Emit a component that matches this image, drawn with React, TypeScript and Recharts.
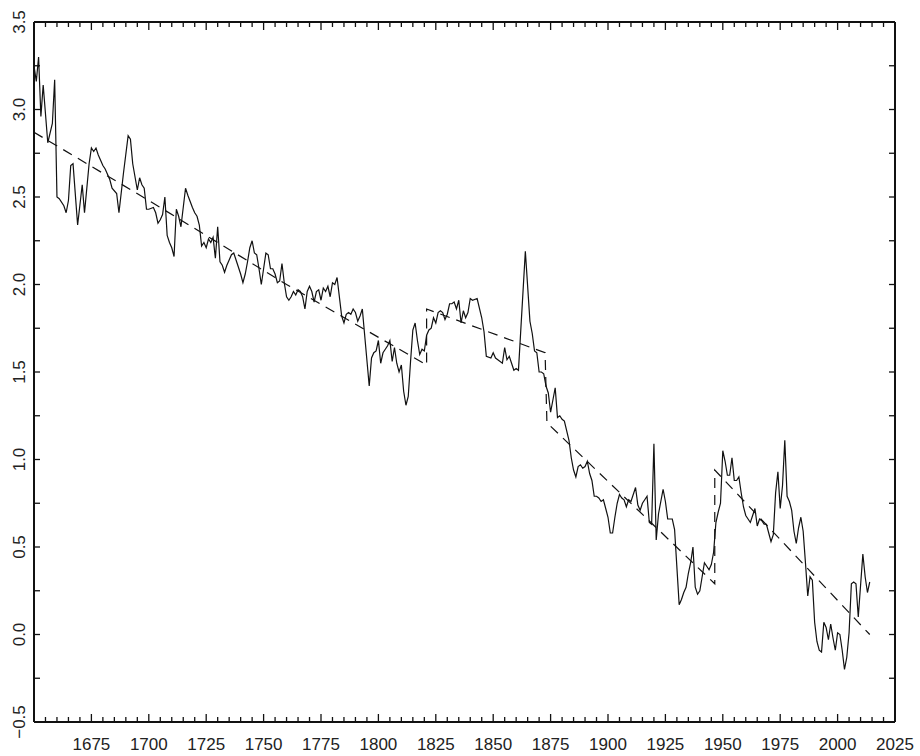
import { LineChart, Line, XAxis, YAxis } from "recharts";

// observed series, [year, value], split at the trend breaks
const early: [number, number][] = [
  [1650, 3.25], [1651, 3.16], [1652, 3.3], [1653, 2.96], [1654, 3.14], [1656, 2.81], [1658, 2.92], [1659, 3.17],
  [1660, 2.5], [1661, 2.49], [1663, 2.45], [1664, 2.41], [1665, 2.48], [1666, 2.68], [1667, 2.69], [1669, 2.34],
  [1671, 2.57], [1672, 2.41], [1674, 2.69], [1675, 2.78], [1676, 2.76], [1677, 2.78], [1678, 2.74], [1680, 2.68],
  [1681, 2.66], [1682, 2.63], [1683, 2.6], [1684, 2.55], [1686, 2.52], [1687, 2.41], [1689, 2.64], [1691, 2.85],
  [1692, 2.83], [1693, 2.69], [1695, 2.54], [1696, 2.61], [1697, 2.57], [1698, 2.55], [1699, 2.43], [1700, 2.43],
  [1702, 2.44], [1703, 2.41], [1704, 2.35], [1705, 2.37], [1706, 2.4], [1707, 2.5], [1708, 2.28], [1709, 2.24],
  [1710, 2.21], [1711, 2.16], [1712, 2.43], [1713, 2.39], [1714, 2.33], [1716, 2.55], [1717, 2.51], [1719, 2.44],
  [1720, 2.41], [1721, 2.39], [1722, 2.34], [1723, 2.22], [1724, 2.24], [1725, 2.21], [1726, 2.26], [1727, 2.24],
  [1728, 2.27], [1729, 2.15], [1730, 2.33], [1731, 2.13], [1732, 2.11], [1733, 2.07], [1734, 2.11], [1735, 2.14],
  [1736, 2.17], [1737, 2.18], [1738, 2.14], [1739, 2.1], [1740, 2.06], [1741, 2.01], [1742, 2.06], [1743, 2.13],
  [1744, 2.21], [1745, 2.25], [1746, 2.18], [1747, 2.17], [1748, 2.09], [1749, 2.0], [1750, 2.09], [1751, 2.18],
  [1752, 2.17], [1753, 2.09], [1754, 2.09], [1755, 2.06], [1756, 2.01], [1757, 2.02], [1758, 2.12], [1759, 2.01],
  [1760, 1.93], [1761, 1.91], [1762, 1.93], [1763, 1.96], [1764, 1.94], [1765, 1.97], [1766, 1.96], [1767, 1.93],
  [1768, 1.86], [1769, 1.96], [1770, 1.99], [1771, 1.96], [1772, 1.9], [1773, 1.96], [1774, 1.97], [1775, 1.91],
  [1776, 1.98], [1777, 1.96], [1778, 1.99], [1779, 1.93], [1780, 2.01], [1781, 2.0], [1782, 2.04], [1784, 1.82],
  [1785, 1.78], [1786, 1.83], [1787, 1.84], [1788, 1.83], [1789, 1.86], [1790, 1.84], [1791, 1.79], [1792, 1.82],
  [1793, 1.86], [1796, 1.42], [1797, 1.58], [1798, 1.61], [1799, 1.62], [1800, 1.68], [1801, 1.55], [1802, 1.61],
  [1803, 1.63], [1804, 1.65], [1805, 1.68], [1806, 1.56], [1807, 1.64], [1808, 1.55], [1809, 1.5], [1810, 1.54],
  [1811, 1.39], [1812, 1.31], [1813, 1.36], [1814, 1.56], [1815, 1.74], [1816, 1.78], [1817, 1.68], [1818, 1.6],
  [1819, 1.63], [1820, 1.62],
];

const middle: [number, number][] = [
  [1821, 1.71], [1822, 1.74], [1823, 1.75], [1824, 1.81], [1825, 1.78], [1826, 1.84], [1827, 1.85], [1828, 1.84],
  [1829, 1.8], [1830, 1.83], [1831, 1.89], [1832, 1.89], [1833, 1.9], [1834, 1.86], [1835, 1.91], [1836, 1.78],
  [1837, 1.85], [1838, 1.81], [1839, 1.84], [1840, 1.92], [1841, 1.91], [1843, 1.92], [1845, 1.81], [1846, 1.73],
  [1847, 1.59], [1849, 1.58], [1850, 1.61], [1851, 1.58], [1852, 1.57], [1854, 1.55], [1855, 1.64], [1856, 1.57],
  [1857, 1.59], [1858, 1.55], [1859, 1.51], [1860, 1.52], [1861, 1.51], [1864, 2.19], [1866, 1.79], [1867, 1.72],
  [1868, 1.62], [1869, 1.61], [1870, 1.5], [1871, 1.5], [1872, 1.49],
];

const late: [number, number][] = [
  [1873, 1.42], [1874, 1.38], [1875, 1.27], [1876, 1.34], [1877, 1.41], [1878, 1.24], [1879, 1.25], [1880, 1.23],
  [1881, 1.22], [1883, 1.11], [1884, 1.01], [1885, 0.94], [1886, 0.9], [1887, 0.96], [1888, 0.97], [1889, 0.95],
  [1890, 0.96], [1891, 0.99], [1892, 0.92], [1893, 0.88], [1894, 0.79], [1895, 0.79], [1896, 0.78], [1897, 0.76],
  [1898, 0.77], [1899, 0.72], [1900, 0.67], [1901, 0.58], [1902, 0.58], [1903, 0.67], [1904, 0.75], [1905, 0.8],
  [1906, 0.78], [1907, 0.77], [1908, 0.73], [1909, 0.77], [1910, 0.76], [1912, 0.84], [1913, 0.74], [1914, 0.71],
  [1915, 0.75], [1916, 0.77], [1917, 0.79], [1918, 0.64], [1919, 0.63], [1920, 1.09], [1921, 0.54], [1922, 0.69],
  [1924, 0.83], [1925, 0.76], [1926, 0.66], [1928, 0.66], [1929, 0.6], [1931, 0.17], [1932, 0.2], [1933, 0.24],
  [1934, 0.27], [1935, 0.35], [1936, 0.41], [1937, 0.5], [1938, 0.27], [1939, 0.23], [1940, 0.25], [1941, 0.33],
  [1942, 0.41], [1943, 0.39], [1944, 0.37], [1945, 0.4], [1946, 0.47],
];

const modern: [number, number][] = [
  [1947, 0.64], [1948, 0.7], [1949, 0.75], [1950, 1.05], [1951, 0.99], [1952, 0.91], [1953, 0.91], [1954, 1.01],
  [1955, 0.88], [1956, 0.88], [1957, 0.9], [1958, 0.81], [1959, 0.73], [1960, 0.68], [1961, 0.66], [1962, 0.64],
  [1963, 0.68], [1964, 0.72], [1965, 0.62], [1966, 0.66], [1967, 0.65], [1968, 0.63], [1969, 0.63], [1970, 0.58],
  [1971, 0.53], [1972, 0.57], [1973, 0.81], [1974, 0.93], [1975, 0.72], [1976, 0.85], [1977, 1.11], [1978, 0.79],
  [1979, 0.76], [1980, 0.71], [1981, 0.59], [1982, 0.52], [1983, 0.61], [1984, 0.67], [1985, 0.59], [1986, 0.41],
  [1987, 0.22], [1988, 0.33], [1989, 0.31], [1990, 0.07], [1991, -0.04], [1992, -0.09], [1993, -0.1], [1994, 0.07],
  [1995, 0.04], [1996, -0.03], [1997, 0.06], [1998, -0.02], [1999, -0.09], [2000, 0.01], [2001, 0.0], [2002, -0.09],
  [2003, -0.2], [2004, -0.13], [2005, 0.01], [2006, 0.29], [2007, 0.3], [2008, 0.29], [2009, 0.1], [2011, 0.46],
  [2012, 0.33], [2013, 0.24], [2014, 0.3],
];

// broken trend (dashed), joined by vertical steps at the breaks
const trendYears = [1650, 1700, 1760, 1821, 1821, 1872.6, 1873.4, 1946.5, 1946.5, 2014];
const trendValues = [2.87, 2.48, 2.0, 1.54, 1.86, 1.61, 1.21, 0.29, 0.94, 0.0];

const xTicks = [
  1650, 1655, 1660, 1665, 1670, 1675, 1680, 1685, 1690, 1695, 1700, 1705, 1710, 1715, 1720, 1725, 1730, 1735, 1740,
  1745, 1750, 1755, 1760, 1765, 1770, 1775, 1780, 1785, 1790, 1795, 1800, 1805, 1810, 1815, 1820, 1825, 1830, 1835,
  1840, 1845, 1850, 1855, 1860, 1865, 1870, 1875, 1880, 1885, 1890, 1895, 1900, 1905, 1910, 1915, 1920, 1925, 1930,
  1935, 1940, 1945, 1950, 1955, 1960, 1965, 1970, 1975, 1980, 1985, 1990, 1995, 2000, 2005, 2010, 2015, 2020, 2025,
];
const xLabels = [1675, 1700, 1725, 1750, 1775, 1800, 1825, 1850, 1875, 1900, 1925, 1950, 1975, 2000, 2025];
const yTicks = [-0.5, -0.25, 0, 0.25, 0.5, 0.75, 1, 1.25, 1.5, 1.75, 2, 2.25, 2.5, 2.75, 3, 3.25, 3.5];
const yLabels = [-0.5, 0, 0.5, 1, 1.5, 2, 2.5, 3, 3.5];

const observed = [...early, ...middle, ...late, ...modern].map(([year, value]) => ({ year, value }));
const trend = trendYears.map((year, i) => ({ year, value: trendValues[i] }));

const INK = "#111";
const FONT = "'Liberation Sans', Arial, sans-serif";

const fmtY = (v: number) => (v < 0 ? "\u2212" + Math.abs(v).toFixed(1) : v.toFixed(1));

const BottomTick = ({ x, y, payload }: any) => {
  const v = payload.value;
  const len = v % 25 === 0 ? 8 : 5;
  return (
    <g>
      <line x1={x} x2={x} y1={y} y2={y - len} stroke={INK} strokeWidth={1.3} />
      {xLabels.includes(v) && (
        <text x={x} y={y + 28} textAnchor="middle" fontFamily={FONT} fontSize={17} fill="#222">
          {v}
        </text>
      )}
    </g>
  );
};

const TopTick = ({ x, y, payload }: any) => {
  const len = payload.value % 25 === 0 ? 8 : 5;
  return <line x1={x} x2={x} y1={y} y2={y + len} stroke={INK} strokeWidth={1.3} />;
};

const LeftTick = ({ x, y, payload }: any) => {
  const v = payload.value;
  return (
    <g>
      <line x1={x} x2={x + 6} y1={y} y2={y} stroke={INK} strokeWidth={1.3} />
      {yLabels.includes(v) && (
        <text
          x={x - 9}
          y={y}
          transform={`rotate(-90 ${x - 9} ${y})`}
          textAnchor="middle"
          fontFamily={FONT}
          fontSize={17}
          fill="#222"
        >
          {fmtY(v)}
        </text>
      )}
    </g>
  );
};

const RightTick = ({ x, y }: any) => (
  <line x1={x} x2={x - 6} y1={y} y2={y} stroke={INK} strokeWidth={1.3} />
);

const frame = { stroke: INK, strokeWidth: 2 };

export default function App() {
  return (
    <div style={{ position: "absolute", left: 0, top: 0, background: "#fff" }}>
      <LineChart width={920} height={756} margin={{ top: 0, right: 0, bottom: 0, left: 0 }}>
        <XAxis
          dataKey="year"
          type="number"
          domain={[1650, 2025]}
          allowDataOverflow
          ticks={xTicks}
          interval={0}
          height={34}
          tickSize={0}
          tickMargin={0}
          axisLine={frame}
          tickLine={false}
          tick={<BottomTick />}
        />
        <XAxis
          xAxisId="top"
          orientation="top"
          dataKey="year"
          type="number"
          domain={[1650, 2025]}
          allowDataOverflow
          ticks={xTicks}
          interval={0}
          height={22}
          tickSize={0}
          tickMargin={0}
          axisLine={frame}
          tickLine={false}
          tick={<TopTick />}
        />
        <YAxis
          type="number"
          domain={[-0.5, 3.5]}
          allowDataOverflow
          ticks={yTicks}
          interval={0}
          width={34}
          tickSize={0}
          tickMargin={0}
          axisLine={frame}
          tickLine={false}
          tick={<LeftTick />}
        />
        <YAxis
          yAxisId="right"
          orientation="right"
          type="number"
          domain={[-0.5, 3.5]}
          allowDataOverflow
          ticks={yTicks}
          interval={0}
          width={25}
          tickSize={0}
          tickMargin={0}
          axisLine={frame}
          tickLine={false}
          tick={<RightTick />}
        />
        <Line
          data={trend}
          xAxisId="top"
          yAxisId="right"
          dataKey="value"
          type="linear"
          stroke={INK}
          strokeWidth={1.2}
          strokeDasharray="10 7"
          dot={false}
          activeDot={false}
          isAnimationActive={false}
        />
        <Line
          data={observed}
          dataKey="value"
          type="linear"
          stroke={INK}
          strokeWidth={1.2}
          dot={false}
          activeDot={false}
          isAnimationActive={false}
        />
      </LineChart>
    </div>
  );
}
